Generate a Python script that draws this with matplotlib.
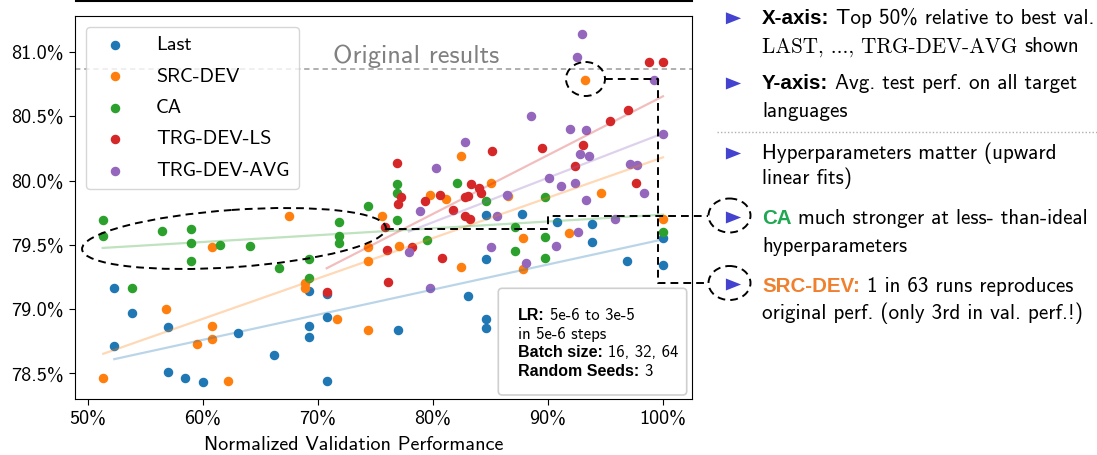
import numpy as np
import matplotlib
matplotlib.use('Agg')
import matplotlib.pyplot as plt
from matplotlib.transforms import Affine2D
from matplotlib.patches import Ellipse, Polygon, FancyBboxPatch
from matplotlib.lines import Line2D
from matplotlib.ticker import FuncFormatter, FixedLocator

# ---------------- data ----------------
methods = ['Last', 'SRC-DEV', 'CA', 'TRG-DEV-LS', 'TRG-DEV-AVG']
colors = ['#1f77b4', '#ff7f0e', '#2ca02c', '#d62728', '#9467bd']

last_x = [52.29, 53.85, 56.93, 52.29, 63.04, 66.15, 56.93, 58.46, 59.97, 69.24,
          70.76, 70.76, 69.24, 69.24, 70.76, 76.93, 83.07, 84.61, 84.61, 84.61,
          84.61, 87.71, 90.77, 93.85, 93.85, 96.91, 100.0, 100.0]
last_y = [79.16, 78.97, 78.86, 78.71, 78.81, 78.64, 78.51, 78.46, 78.43, 79.14,
          79.12, 78.94, 78.87, 78.78, 78.44, 78.84, 79.10, 78.92, 78.85, 79.39,
          79.73, 79.74, 79.68, 79.66, 79.52, 79.37, 79.55, 79.34]

src_x = [51.33, 56.76, 59.45, 60.78, 60.78, 60.78, 62.15, 67.52, 68.90, 68.90,
         71.63, 74.35, 74.35, 74.35, 75.61, 77.02, 79.74, 81.10, 82.43, 82.43,
         85.04, 86.52, 87.85, 87.85, 91.87, 93.24, 94.61, 100.0]
src_y = [78.46, 79.00, 78.73, 79.48, 78.87, 78.77, 78.44, 79.72, 79.20, 79.16,
         78.92, 79.48, 79.37, 78.84, 79.72, 79.49, 79.89, 79.86, 80.19, 79.33,
         79.98, 79.88, 79.55, 79.31, 79.59, 80.78, 79.90, 79.70]

ca_x = [51.28, 51.28, 53.85, 56.41, 58.96, 58.96, 58.96, 61.50, 64.09, 66.65,
        69.22, 69.22, 71.80, 71.80, 71.80, 74.37, 76.91, 76.91, 76.91, 79.48,
        82.06, 84.57, 87.17, 87.16, 89.74, 89.74, 89.74, 100.0]
ca_y = [79.69, 79.57, 79.16, 79.61, 79.62, 79.51, 79.37, 79.50, 79.49, 79.32,
        79.39, 79.24, 79.68, 79.57, 79.51, 79.80, 79.97, 79.90, 79.69, 79.54,
        79.98, 79.84, 79.64, 79.45, 79.87, 79.56, 79.40, 79.60]

ls_x = [70.76, 75.83, 76.03, 76.11, 76.83, 77.19, 76.97, 78.20, 79.29, 80.57,
        81.77, 82.80, 83.07, 83.28, 84.00, 84.19, 82.78, 83.20, 80.76, 85.13,
        89.45, 93.02, 92.37, 95.42, 96.98, 97.68, 98.81, 100.0]
ls_y = [79.13, 79.64, 79.46, 79.21, 80.14, 79.87, 79.82, 79.48, 79.84, 79.89,
        79.77, 79.87, 79.88, 79.97, 79.94, 79.90, 79.72, 79.70, 79.40, 80.23,
        80.25, 80.28, 80.11, 80.46, 80.55, 79.98, 80.92, 80.92]

avg_x = [77.91, 78.91, 79.77, 80.24, 82.78, 85.02, 85.59, 86.41, 88.06, 88.52,
         90.09, 90.70, 91.16, 91.91, 92.32, 92.57, 92.50, 92.93, 92.78, 93.30,
         93.54, 93.30, 95.84, 97.13, 97.71, 98.32, 99.24, 100.0]
avg_y = [79.44, 79.76, 79.16, 80.10, 80.30, 79.48, 79.72, 79.89, 79.36, 80.50,
         80.02, 79.49, 79.96, 80.40, 79.98, 79.60, 80.96, 81.14, 80.21, 80.39,
         80.19, 79.85, 79.70, 80.13, 80.12, 79.90, 80.78, 80.36]

series_x = [last_x, src_x, ca_x, ls_x, avg_x]
series_y = [last_y, src_y, ca_y, ls_y, avg_y]

original_result = 80.87
x_ticks = [50, 60, 70, 80, 90, 100]
y_ticks = [78.5, 79.0, 79.5, 80.0, 80.5, 81.0]

# ---------------- figure ----------------
plt.rcParams['font.family'] = ['cmss10', 'DejaVu Sans']
plt.rcParams['axes.unicode_minus'] = False

W, H = 1097, 455
fig = plt.figure(figsize=(W / 100, H / 100), dpi=100)
px = Affine2D().scale(1, -1).translate(0, H)   # pixel coords, y from top

ax = fig.add_axes([74.5 / W, 1 - 399 / H, (691.5 - 74.5) / W, (399 - 16) / H])
ax.set_xlim(48.83, 102.48)
ax.set_ylim(78.30, 81.28)

for name, c, xs, ys in zip(methods, colors, series_x, series_y):
    ax.scatter(xs, ys, s=34, color=c, label=name, zorder=2)
for c, xs, ys in zip(colors, series_x, series_y):
    xs = np.asarray(xs); ys = np.asarray(ys)
    k, b = np.polyfit(xs, ys, 1)
    xx = np.array([xs.min(), xs.max()])
    ax.plot(xx, k * xx + b, color=c, alpha=0.3, lw=1.6, zorder=3)

ax.axhline(original_result, color='#9a9a9a', ls=(0, (3.5, 2.5)), lw=1.1, zorder=1)
ax.text(71.3, original_result + 0.005, 'Original results', fontsize=19,
        color='#808080', va='bottom', ha='left')

ax.xaxis.set_major_locator(FixedLocator(x_ticks))
ax.yaxis.set_major_locator(FixedLocator(y_ticks))
ax.xaxis.set_major_formatter(FuncFormatter(lambda v, p: f'{v:.0f}%'))
ax.yaxis.set_major_formatter(FuncFormatter(lambda v, p: f'{v:.1f}%'))
ax.tick_params(labelsize=14.5, length=4.2)
ax.set_xlabel('Normalized Validation Performance', fontsize=14.5,
              x=(354 - 74.5) / 617, labelpad=6)

leg = ax.legend(loc='upper left', fontsize=14.5, scatterpoints=1,
                borderaxespad=0.55, borderpad=0.45, labelspacing=0.66,
                handletextpad=1.05)

# ---------------- helpers ----------------
renderer = fig.canvas.get_renderer()
REG = dict(family=['cmss10', 'DejaVu Sans'])
BOLD = dict(family='Liberation Sans', weight='bold')


def rich(x, y, parts, size):
    cx = x
    for s, kw in parts:
        if s is None:
            cx += size * 0.33 * 100 / 72
            continue
        kw = dict(kw)
        fs = kw.pop('fs', size)
        t = fig.text(cx, y, s, transform=px, fontsize=fs, va='baseline',
                     ha='left', **kw)
        cx += t.get_window_extent(renderer).width
    return cx


def bullet(cx, cy):
    fig.add_artist(Polygon([(cx - 7.6, cy - 6.0), (cx - 7.6, cy + 6.0),
                            (cx + 7.6, cy)], closed=True, transform=px,
                           color='#4343d0', lw=0))


def dashed(pts):
    xs, ys = zip(*pts)
    fig.add_artist(Line2D(xs, ys, transform=px, color='black', lw=1.4,
                          ls=(0, (4, 2.6))))


def dashed_ellipse(cx, cy, w, h, angle=0):
    fig.add_artist(Ellipse((cx, cy), w, h, angle=angle, transform=px,
                           fill=False, ec='black', lw=1.4, ls=(0, (4, 2.6))))


# top rule (cut title box)
fig.add_artist(Line2D([76, 692], [1, 1], transform=px, color='black', lw=1.5))

# ---------------- right panel ----------------
TX = 762
FS = 15.2
BFS = 14.8
green_t = '#1fa851'
orange_t = '#f0802e'

bullet(733.5, 18.3)
rich(TX, 24, [('X-axis:', dict(BOLD, fs=BFS)), (None, {}),
              ('Top 50% relative to best val.', REG)], FS)
rich(TX, 52.3, [('LAST, ..., TRG-DEV-AVG', dict(family='cmr10', fs=15.2)),
                (None, {}), ('shown', REG)], FS)
bullet(733.5, 83.5)
rich(TX, 89.3, [('Y-axis:', dict(BOLD, fs=BFS)), (None, {}),
                ('Avg. test perf. on all target', REG)], FS)
rich(TX, 116.7, [('languages', REG)], FS)

fig.add_artist(Line2D([717, 1097], [132, 132], transform=px, color='#b0b0b0',
                      lw=1.0, ls=(0, (1, 1.5))))

bullet(733.5, 153.5)
rich(TX, 159.3, [('Hyperparameters matter (upward', REG)], FS)
rich(TX, 184.3, [('linear fits)', REG)], FS)

bullet(733.5, 217.5)
rich(TX, 224, [('CA', dict(BOLD, fs=BFS, color=green_t)), (None, {}),
               ('much stronger at less- than-ideal', REG)], FS)
rich(TX, 251.7, [('hyperparameters', REG)], FS)

bullet(733.5, 284.5)
rich(TX, 291.5, [('SRC-DEV:', dict(BOLD, fs=BFS, color=orange_t)), (None, {}),
                 ('1 in 63 runs reproduces', REG)], FS)
rich(TX, 319.5, [('original perf. (only 3rd in val. perf.!)', REG)], FS)

# ---------------- info box ----------------
fig.add_artist(FancyBboxPatch((498.3, 288.3), 188.4, 106.7,
                              boxstyle='round,pad=0,rounding_size=4',
                              transform=px, fc='white', ec='#cfcfcf', lw=1.2))
IS = 12.0
IB = 11.5
rich(517.7, 320, [('LR:', dict(BOLD, fs=IB)), (None, {}), ('5e-6 to 3e-5', REG)], IS)
rich(517.7, 338.5, [('in 5e-6 steps', REG)], IS)
rich(517.7, 357, [('Batch size:', dict(BOLD, fs=IB)), (None, {}),
                  ('16, 32, 64', REG)], IS)
rich(517.7, 375.7, [('Random Seeds:', dict(BOLD, fs=IB)), (None, {}),
                    ('3', REG)], IS)

# ---------------- annotations ----------------
dashed_ellipse(234, 238.5, 304.6, 57.2, angle=-4.06)
dashed([(386, 228.5), (548.3, 228.5), (548.3, 215.5), (708, 215.5)])
dashed_ellipse(585.5, 79, 39, 34)
dashed([(605, 79), (658.3, 79), (658.3, 283), (708, 283)])
dashed_ellipse(729.5, 215.5, 42, 34)
dashed_ellipse(729.5, 283, 42, 34)

fig.savefig('out.png', dpi=100)
